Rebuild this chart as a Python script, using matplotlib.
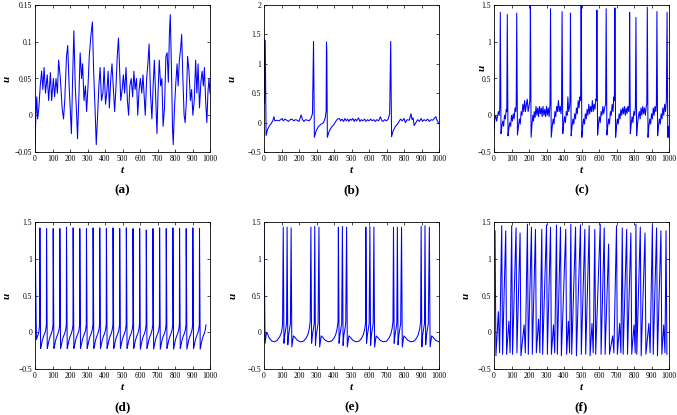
import matplotlib
matplotlib.use("Agg")
import matplotlib.pyplot as plt
from matplotlib.ticker import FuncFormatter

plt.rcParams['font.family'] = ['Liberation Serif', 'DejaVu Serif']

# ---------------- data ----------------
# (a) noisy subthreshold trace
a_t = [0, 5, 10, 15, 22, 30, 38, 45, 52, 60, 70, 78, 88, 95, 105, 112, 120, 128, 135, 145,
       155, 163, 170, 180, 187, 195, 203, 208, 215, 222, 230, 238, 243, 250, 258, 266, 272, 280,
       288, 295, 303, 310, 320, 328, 335, 343, 350, 357, 365, 372, 380, 388, 395, 403, 410, 418,
       425, 433, 440, 447, 455, 462, 470, 477, 484, 490, 498, 505, 512, 520, 528, 535, 542, 550,
       558, 565, 572, 580, 587, 595, 602, 610, 617, 625, 630, 638, 645, 652, 660, 668, 675, 682,
       690, 697, 703, 710, 718, 725, 732, 740, 748, 755, 762, 768, 773, 780, 786, 790, 797, 805,
       812, 818, 825, 832, 838, 845, 852, 858, 865, 872, 880, 888, 895, 902, 910, 918, 925, 932,
       940, 948, 955, 962, 968, 975, 982, 988, 994, 1000]
a_u = [-0.04, 0.0, 0.025, -0.005, 0.01, 0.04, 0.06, 0.035, 0.065, 0.03, 0.055, 0.02, 0.058, 0.02,
       0.05, 0.025, 0.05, 0.03, 0.075, 0.05, 0.01, -0.005, 0.02, 0.08, 0.095, 0.04, 0.0, -0.025,
       0.05, 0.115, 0.04, 0.0, -0.032, 0.02, 0.085, 0.05, 0.07, 0.02, 0.04, 0.005, 0.04, 0.08, 0.11,
       0.127, 0.06, 0.01, -0.04, -0.005, 0.04, 0.065, 0.02, 0.03, 0.065, 0.015, 0.03, 0.06, 0.01,
       0.05, 0.07, 0.04, 0.005, 0.035, 0.08, 0.105, 0.06, 0.02, 0.035, 0.055, 0.03, 0.065, 0.02,
       0.0, 0.04, 0.05, 0.025, 0.06, 0.035, 0.05, 0.0, 0.035, 0.05, 0.03, 0.055, 0.02, 0.0, 0.05,
       0.07, 0.097, 0.03, -0.005, 0.04, 0.075, 0.02, -0.025, 0.03, 0.075, 0.04, 0.05, -0.015, 0.01,
       0.08, 0.085, 0.045, 0.11, 0.137, 0.06, -0.02, -0.04, 0.01, 0.045, 0.07, 0.04, 0.075, 0.09,
       0.11, 0.05, 0.0, -0.01, 0.02, 0.08, 0.06, 0.02, 0.035, 0.0, 0.02, 0.075, 0.03, 0.07, 0.01,
       0.045, 0.06, 0.04, 0.065, 0.02, -0.01, 0.03, 0.05, 0.03]

# (b) rare spikes on a quiet baseline
b_t = [0, 3, 7, 12, 20, 30, 40, 50, 57, 62, 75, 85, 95, 103, 110, 120, 130, 140, 150, 160, 170,
       180, 190, 200, 212, 220, 228, 238, 248, 258, 268, 277, 283, 288, 297, 310, 325, 340, 350,
       355, 357, 359, 362, 372, 385, 400, 412, 420, 430, 438, 445, 455, 462, 470, 478, 485, 493,
       500, 508, 515, 522, 530, 540, 548, 556, 565, 575, 583, 592, 600, 610, 618, 628, 636, 645,
       655, 665, 672, 680, 690, 700, 710, 718, 724, 729, 738, 750, 762, 772, 780, 790, 800, 808,
       818, 830, 840, 846, 852, 858, 868, 878, 888, 898, 906, 915, 925, 935, 945, 955, 965, 975,
       982, 990, 1000]
b_u = [1.42, 0.33, 1.4, -0.22, -0.12, -0.06, -0.02, 0.03, 0.1, 0.03, 0.04, 0.03, 0.05, 0.07,
       0.03, 0.06, 0.04, 0.02, 0.05, 0.06, 0.03, 0.05, 0.04, 0.02, 0.13, 0.05, 0.02, 0.05, 0.04,
       0.03, 0.07, 0.15, 1.38, -0.25, -0.15, -0.07, -0.03, 0.0, 0.08, 0.2, 1.37, 1.2, -0.25, -0.15,
       -0.08, -0.03, 0.03, 0.06, 0.07, 0.03, 0.06, 0.02, 0.07, 0.03, 0.06, 0.02, 0.06, 0.04, 0.07,
       0.02, 0.06, 0.03, 0.08, 0.02, 0.05, 0.03, 0.06, 0.02, 0.05, 0.03, 0.06, 0.03, 0.05, 0.02,
       0.05, 0.03, 0.1, 0.04, 0.02, 0.05, 0.03, 0.06, 0.15, 1.38, -0.24, -0.14, -0.07, -0.03, 0.02,
       0.06, 0.03, 0.07, 0.0, 0.05, 0.04, 0.15, 0.05, 0.08, -0.05, 0.0, 0.05, 0.02, 0.07, 0.02,
       0.05, 0.03, 0.06, 0.02, 0.05, 0.04, 0.08, 0.1, 0.03, -0.02]

# (c) irregular spiking on a noisy baseline
c_base_t = [0, 5, 10, 15, 20, 25, 30, 33, 45, 50, 55, 60, 65, 70, 73, 85, 90, 95, 100, 105, 110,
            115, 120, 125, 127, 140, 145, 150, 155, 160, 165, 170, 175, 180, 185, 190, 195, 200,
            205, 218, 222, 226, 230, 235, 240, 245, 250, 255, 260, 265, 270, 275, 280, 285, 290,
            295, 300, 305, 310, 315, 320, 333, 338, 343, 348, 353, 358, 363, 368, 373, 378, 383,
            386, 398, 403, 408, 413, 418, 422, 427, 432, 434, 446, 451, 456, 461, 466, 471, 476,
            481, 486, 491, 495, 507, 512, 517, 522, 527, 532, 537, 542, 547, 552, 557, 562, 567,
            572, 577, 582, 585, 597, 602, 607, 612, 617, 622, 627, 632, 638, 650, 655, 660, 665,
            670, 675, 680, 685, 688, 700, 705, 710, 715, 720, 725, 730, 735, 740, 745, 750, 755,
            760, 765, 770, 773, 784, 789, 794, 799, 804, 808, 820, 825, 830, 835, 840, 845, 850,
            855, 860, 865, 870, 873, 885, 890, 895, 900, 905, 910, 915, 920, 925, 928, 940, 945,
            950, 955, 960, 965, 970, 975, 980, 985, 996, 1000]
c_base_u = [-0.2, -0.05, 0.0, -0.08, -0.02, 0.05, 0.0, 0.1, -0.15, -0.08, -0.15, 0.0, -0.05,
            0.08, 0.05, -0.18, -0.1, -0.15, 0.0, -0.08, 0.02, -0.05, 0.1, 0.05, 0.15, -0.15,
            -0.05, -0.12, 0.05, 0.0, 0.15, 0.05, 0.2, 0.05, 0.15, 0.22, 0.05, 0.12, 0.2, -0.1,
            0.0, -0.08, 0.05, -0.03, 0.12, 0.0, 0.1, -0.02, 0.12, 0.02, 0.1, -0.02, 0.12, 0.0,
            0.08, -0.02, 0.12, 0.0, 0.1, -0.02, 0.15, -0.15, -0.05, -0.12, 0.05, -0.02, 0.12,
            0.05, 0.2, 0.05, 0.12, 0.02, 0.15, -0.12, -0.02, -0.1, 0.05, 0.0, 0.25, 0.05, 0.12,
            0.2, -0.15, -0.05, -0.12, 0.02, -0.05, 0.1, 0.02, 0.2, 0.1, 0.25, 0.2, -0.15, -0.05,
            -0.12, 0.02, -0.05, 0.08, 0.0, 0.15, 0.02, 0.12, 0.05, 0.2, 0.05, 0.15, 0.08, 0.22,
            0.2, -0.12, -0.02, -0.1, 0.05, 0.0, 0.12, 0.02, 0.1, 0.15, -0.15, -0.05, -0.12, 0.05,
            0.0, 0.15, 0.05, 0.25, 0.2, -0.15, -0.05, -0.12, 0.02, -0.05, 0.08, 0.0, 0.1, 0.02,
            0.12, 0.0, 0.1, 0.02, 0.12, 0.05, 0.15, -0.12, -0.02, -0.1, 0.05, 0.0, 0.12, -0.12,
            -0.02, 0.05, -0.05, 0.1, 0.0, 0.12, 0.02, 0.1, 0.0, 0.12, 0.15, -0.15, -0.05, -0.12,
            0.02, -0.05, 0.1, 0.0, 0.12, 0.05, 0.15, -0.15, -0.05, -0.12, 0.02, -0.05, 0.1, 0.0,
            0.15, 0.05, 0.2, -0.15, -0.3]
c_spike_t = [36, 76, 130, 208, 323, 389, 437, 498, 588, 641, 691, 775, 811, 876, 931, 989]
c_spike_peak = [1.4, 1.37, 1.39, 1.55, 1.45, 1.41, 1.39, 1.5, 1.43, 1.45, 1.46, 1.4, 1.33, 1.47,
                1.41, 1.4]
c_spike_low = [-0.25, -0.28, -0.27, -0.3, -0.3, -0.25, -0.28, -0.3, -0.27, -0.27, -0.3, -0.25,
               -0.28, -0.3, -0.28, -0.3]

# (d) regular tonic spiking
d_start_t = [0, 8, 15, 22, 26]
d_start_u = [1.45, -0.1, -0.05, 0.0, 0.1]
d_spike_t = [28, 66, 104, 142, 180, 218, 256, 294, 332, 370, 408, 446, 484, 522, 560, 598, 636,
             674, 712, 750, 788, 826, 864, 902, 940]
d_spike_peak = [1.42, 1.41, 1.41, 1.41, 1.43, 1.42, 1.41, 1.41, 1.42, 1.42, 1.41, 1.42, 1.41,
                1.42, 1.41, 1.41, 1.39, 1.41, 1.42, 1.41, 1.42, 1.41, 1.41, 1.42, 1.41]
d_spike_low = [-0.22, -0.22, -0.22, -0.22, -0.22, -0.22, -0.22, -0.22, -0.22, -0.22, -0.22,
               -0.22, -0.22, -0.22, -0.22, -0.23, -0.22, -0.23, -0.23, -0.22, -0.23, -0.22,
               -0.23, -0.22, -0.23]

# (e) bursting, three spikes per burst
e_start_t = [0, 6, 14, 20, 30, 45, 60, 75, 90, 100, 106]
e_start_u = [1.45, -0.15, 0.0, -0.02, -0.08, -0.12, -0.13, -0.11, -0.06, 0.0, 0.1]
e_spike_t = [110, 132, 155, 268, 290, 314, 425, 448, 472, 582, 605, 628, 740, 762, 786, 898, 920, 945]
e_spike_peak = [1.43, 1.43, 1.42, 1.43, 1.44, 1.43, 1.43, 1.44, 1.43, 1.43, 1.44, 1.43, 1.43,
                1.43, 1.43, 1.44, 1.45, 1.43]
e_spike_low = [-0.15, -0.17, -0.2, -0.15, -0.18, -0.2, -0.15, -0.18, -0.2, -0.15, -0.18, -0.2,
               -0.15, -0.17, -0.2, -0.2, -0.17, -0.2]

# (f) spiking with small subthreshold oscillations
f_spike_t = [6, 44, 67, 101, 126, 149, 191, 214, 237, 273, 300, 323, 357, 380, 410, 439, 466, 494,
             519, 544, 576, 607, 630, 655, 700, 733, 758, 782, 811, 836, 863, 905, 929, 954, 983]
f_spike_peak = [1.38, 1.45, 1.38, 1.45, 1.42, 1.35, 1.47, 1.43, 1.4, 1.4, 1.46, 1.43, 1.46, 1.43,
                1.4, 1.47, 1.43, 1.46, 1.4, 1.45, 1.4, 1.47, 1.42, 1.2, 1.45, 1.42, 1.4, 1.35,
                1.47, 1.43, 1.35, 1.46, 1.42, 1.38, 1.38]
f_spike_low = [-0.32, -0.3, -0.3, -0.3, -0.28, -0.32, -0.3, -0.3, -0.28, -0.3, -0.3, -0.3, -0.3,
               -0.32, -0.3, -0.3, -0.32, -0.3, -0.3, -0.32, -0.3, -0.3, -0.3, -0.3, -0.3, -0.3,
               -0.3, -0.3, -0.3, -0.32, -0.3, -0.3, -0.32, -0.3, -0.3]
f_bump_t = [25, 85, 172, 255, 340, 425, 560, 678, 718, 800, 885, 970]
f_bump_u = [0.28, 0.15, 0.1, 0.18, 0.1, 0.15, 0.12, -0.05, 0.12, 0.1, 0.12, 0.1]


def build(base_t, base_u, sp_t, sp_pk, sp_lo, down=4, recov=None, bumps=None):
    """merge baseline samples with spike peaks / troughs into one sorted trace"""
    pts = list(zip(base_t, base_u))
    for ts, pk, lo in zip(sp_t, sp_pk, sp_lo):
        pts = [p for p in pts if not (ts - 1 < p[0] < ts + down + 1)]
        pts.append((ts, pk))
        pts.append((ts + down, lo))
        if recov is not None:
            for off, v in recov(ts):
                pts.append((ts + down + off, v))
    if bumps is not None:
        for tb, ub in zip(*bumps):
            pts.append((tb, ub))
            pts.append((tb + 7, -0.28))
    pts = sorted(p for p in pts if 0 <= p[0] <= 1000)
    return [p[0] for p in pts], [p[1] for p in pts]


def d_recov(ts):
    return [(4, -0.18), (10, -0.11), (16, -0.06), (23, -0.02), (29, 0.03), (33, 0.1)]


def e_recov(ts):
    i = e_spike_t.index(ts)
    last = (i == len(e_spike_t) - 1) or (e_spike_t[i + 1] - ts > 40)
    if not last:
        return [(4, -0.05), (10, 0.04), (15, 0.12)]
    return [(9, -0.05), (18, -0.07), (32, -0.11), (50, -0.13), (68, -0.12), (82, -0.08),
            (92, -0.03), (100, 0.05), (105, 0.15)]


def f_recov(ts):
    return [(6, -0.1), (12, 0.1)]


def fmt(v, pos):
    s = ('%g' % round(v, 3)).replace('-', '\u2212')
    return s


traces = [
    (a_t, a_u),
    (b_t, b_u),
    build(c_base_t, c_base_u, c_spike_t, c_spike_peak, c_spike_low),
    build(d_start_t, d_start_u, d_spike_t, d_spike_peak, d_spike_low, recov=d_recov),
    build(e_start_t, e_start_u, e_spike_t, e_spike_peak, e_spike_low, recov=e_recov),
    build([], [], f_spike_t, f_spike_peak, f_spike_low, down=5, bumps=(f_bump_t, f_bump_u)),
]
ylims = [(-0.05, 0.15), (-0.5, 2), (-0.5, 1.5), (-0.5, 1.5), (-0.5, 1.5), (-0.5, 1.5)]
yticks = [[-0.05, 0, 0.05, 0.1, 0.15], [-0.5, 0, 0.5, 1, 1.5, 2],
          [-0.5, 0, 0.5, 1, 1.5], [-0.5, 0, 0.5, 1, 1.5], [-0.5, 0, 0.5, 1, 1.5],
          [-0.5, 0, 0.5, 1, 1.5]]
panel_names = ['(a)', '(b)', '(c)', '(d)', '(e)', '(f)']

W, H = 677, 415
fig = plt.figure(figsize=(W / 100, H / 100), dpi=100)
lefts = [35, 264, 494]
rows = [(5, 152), (222, 369)]
ulab = [23, 27, 7, 23, 26, 23]
uy = [0.5, 0.5, 0.57, 0.5, 0.5, 0.5]

for k in range(6):
    r, c = divmod(k, 3)
    top, bot = rows[r]
    ax = fig.add_axes([lefts[c] / W, 1 - bot / H, 175 / W, (bot - top) / H])
    t, u = traces[k]
    ax.plot(t, u, color='#0000ff', lw=0.75)
    ax.set_xlim(0, 1000)
    ax.set_ylim(*ylims[k])
    ax.set_xticks(range(0, 1001, 100))
    ax.set_yticks(yticks[k])
    ax.yaxis.set_major_formatter(FuncFormatter(fmt))
    ax.tick_params(direction='in', length=2.5, width=0.5, labelsize=5.5, pad=2,
                   top=True, right=True)
    for s in ax.spines.values():
        s.set_linewidth(0.6)
    ax.set_xlabel('t', fontsize=8, fontstyle='italic', fontweight='bold', labelpad=2)
    ax.set_ylabel('u', fontsize=8, fontstyle='italic', fontweight='bold', rotation=90)
    ax.yaxis.set_label_coords(-ulab[k] / 175, uy[k])
    fig.text((lefts[c] + 87.5) / W, 1 - (bot + 38) / H, panel_names[k],
             ha='center', va='center', fontsize=9.5, fontweight='bold')

fig.savefig('out.png', dpi=100)
